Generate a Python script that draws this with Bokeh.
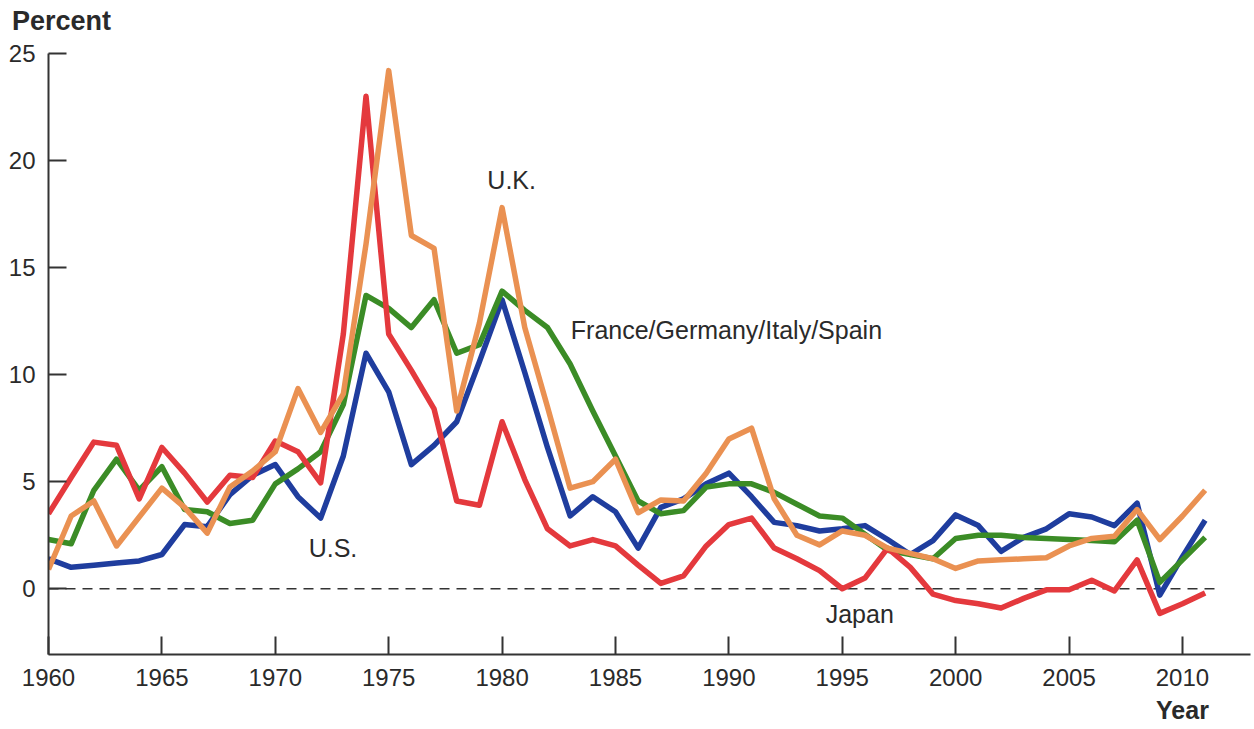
from bokeh.plotting import figure
from bokeh.models import Label, FixedTicker, Range1d, LinearAxis
from bokeh.embed import file_html
from bokeh.resources import INLINE

years = list(range(1960, 2012))

us = [1.4, 1.0, 1.1, 1.2, 1.3, 1.6, 3.0, 2.9, 4.4, 5.3,
      5.8, 4.3, 3.3, 6.2, 11.0, 9.2, 5.8, 6.7, 7.8, 10.6,
      13.5, 10.1, 6.6, 3.4, 4.3, 3.6, 1.9, 3.8, 4.2, 4.9,
      5.4, 4.3, 3.1, 2.95, 2.7, 2.8, 2.95, 2.3, 1.6, 2.25,
      3.45, 2.95, 1.75, 2.4, 2.8, 3.5, 3.35, 2.95, 4.0, -0.3,
      1.5, 3.2]

japan = [3.5, 5.2, 6.85, 6.7, 4.2, 6.6, 5.4, 4.05, 5.3, 5.2,
         6.9, 6.4, 4.95, 11.9, 23.0, 11.9, 10.2, 8.4, 4.1, 3.9,
         7.8, 5.1, 2.8, 2.0, 2.3, 2.0, 1.1, 0.25, 0.6, 2.0,
         3.0, 3.3, 1.9, 1.4, 0.85, 0.0, 0.5, 1.9, 1.0, -0.25,
         -0.55, -0.7, -0.9, -0.45, -0.05, -0.05, 0.4, -0.1, 1.35, -1.15,
         -0.7, -0.2]

uk = [0.9, 3.4, 4.1, 2.0, 3.35, 4.7, 3.8, 2.6, 4.75, 5.5,
      6.4, 9.35, 7.3, 9.1, 16.1, 24.2, 16.5, 15.9, 8.3, 12.4,
      17.8, 12.2, 8.5, 4.7, 5.0, 6.05, 3.55, 4.15, 4.1, 5.4,
      7.0, 7.5, 4.2, 2.5, 2.05, 2.7, 2.5, 1.9, 1.65, 1.4,
      0.95, 1.3, 1.35, 1.4, 1.45, 2.0, 2.35, 2.45, 3.7, 2.3,
      3.4, 4.6]

fgis = [2.3, 2.1, 4.6, 6.05, 4.6, 5.7, 3.7, 3.6, 3.05, 3.2,
        4.9, 5.6, 6.4, 8.6, 13.7, 13.1, 12.2, 13.5, 11.0, 11.4,
        13.9, 13.0, 12.2, 10.5, 8.3, 6.2, 4.1, 3.5, 3.65, 4.75,
        4.9, 4.9, 4.5, 3.95, 3.4, 3.3, 2.55, 1.8, 1.6, 1.4,
        2.35, 2.5, 2.5, 2.4, 2.35, 2.3, 2.25, 2.2, 3.2, 0.3,
        1.35, 2.4]

x_ticks = [1960, 1965, 1970, 1975, 1980, 1985, 1990, 1995, 2000, 2005, 2010]
y_ticks = [0, 5, 10, 15, 20, 25]
zero_x = [1960, 2011.6]
zero_y = [0, 0]

FONT = "Liberation Sans"
TXT = "#2a2a2a"

p = figure(width=1254, height=729, output_backend="svg", toolbar_location=None,
           x_range=Range1d(1960, 2013), y_range=Range1d(-3.07, 25),
           min_border_left=48, min_border_right=4, min_border_top=53, min_border_bottom=75)
p.outline_line_color = None
p.xgrid.visible = False
p.ygrid.visible = False
p.background_fill_color = "white"
p.border_fill_color = "white"

for ax in (p.xaxis[0], p.yaxis[0]):
    ax.axis_line_color = "#333333"
    ax.axis_line_width = 2
    ax.major_tick_line_color = "#333333"
    ax.major_tick_line_width = 2
    ax.major_tick_in = 18
    ax.major_tick_out = 0
    ax.minor_tick_line_color = None
    ax.major_label_text_font = FONT
    ax.major_label_text_font_size = "24px"
    ax.major_label_text_color = TXT

p.xaxis.ticker = FixedTicker(ticks=x_ticks)
p.yaxis.ticker = FixedTicker(ticks=y_ticks)
p.xaxis.major_label_standoff = 14
p.yaxis.major_label_standoff = 13

# "Percent" (above the plot) and "Year" (below 2010) as label-only axes
percent_axis = LinearAxis(ticker=FixedTicker(ticks=[1960.57]),
                          major_label_overrides={1960.57: "Percent"},
                          axis_line_color=None, major_tick_line_color=None,
                          minor_tick_line_color=None, major_label_standoff=12,
                          major_label_text_font=FONT, major_label_text_font_size="27px",
                          major_label_text_font_style="bold", major_label_text_color=TXT)
p.add_layout(percent_axis, "above")

year_axis = LinearAxis(ticker=FixedTicker(ticks=[2010]),
                       major_label_overrides={2010: "Year"},
                       axis_line_color=None, major_tick_line_color=None,
                       minor_tick_line_color=None, major_label_standoff=1,
                       major_label_text_font=FONT, major_label_text_font_size="25px",
                       major_label_text_font_style="bold", major_label_text_color=TXT)
p.add_layout(year_axis, "below")

p.line(zero_x, zero_y, line_color="#333333", line_width=1.5, line_dash="10 7")

p.line(years, us, line_color="#1f3d9e", line_width=5.5, line_join="round")
p.line(years, fgis, line_color="#3b8c26", line_width=5.5, line_join="round")
p.line(years, japan, line_color="#e4393d", line_width=5.5, line_join="round")
p.line(years, uk, line_color="#ea9152", line_width=5.5, line_join="round")

def lab(x, y, t, size="25px"):
    p.add_layout(Label(x=x, y=y, text=t, text_font=FONT, text_font_size=size,
                       text_color=TXT, text_baseline="alphabetic", text_align="left"))

lab(1979.35, 19.1, "U.K.")
lab(1983.03, 12.08, "France/Germany/Italy/Spain")
lab(1971.47, 1.9, "U.S.")
lab(1994.27, -1.2, "Japan")

open("out.html", "w").write(file_html(p, INLINE))
